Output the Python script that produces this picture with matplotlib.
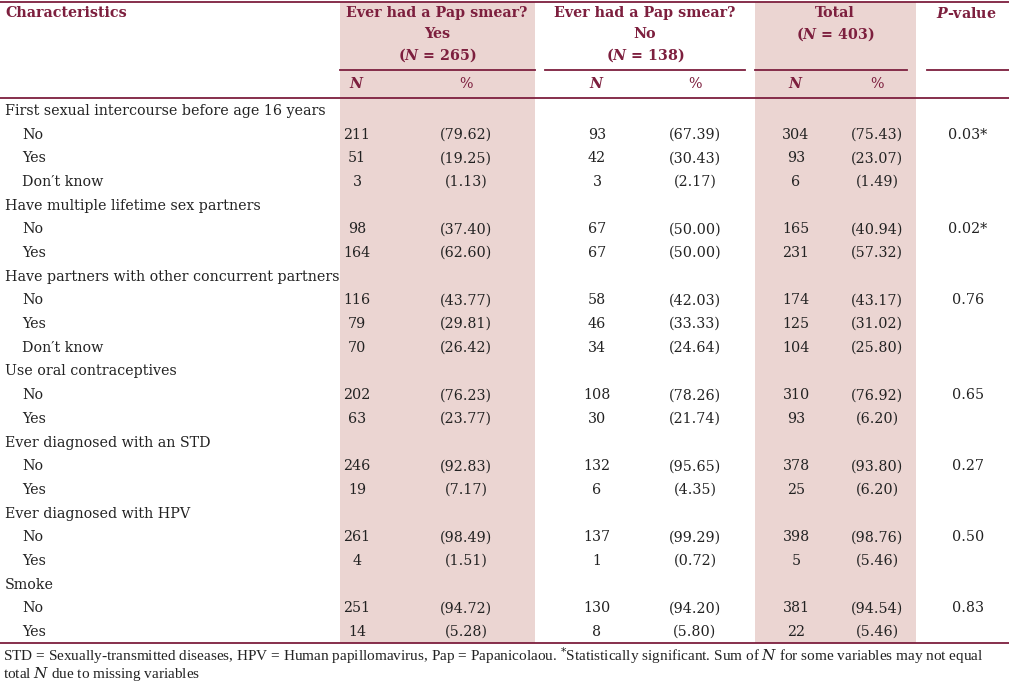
import matplotlib
matplotlib.use("Agg")
import matplotlib.pyplot as plt

# ---- data ----
row_labels = [
    "First sexual intercourse before age 16 years", "No", "Yes", "Don\u2032t know",
    "Have multiple lifetime sex partners", "No", "Yes",
    "Have partners with other concurrent partners", "No", "Yes", "Don\u2032t know",
    "Use oral contraceptives", "No", "Yes",
    "Ever diagnosed with an STD", "No", "Yes",
    "Ever diagnosed with HPV", "No", "Yes",
    "Smoke", "No", "Yes",
]
is_group = [True, False, False, False, True, False, False, True, False, False, False,
            True, False, False, True, False, False, True, False, False, True, False, False]
yes_n = ["", "211", "51", "3", "", "98", "164", "", "116", "79", "70", "", "202", "63",
         "", "246", "19", "", "261", "4", "", "251", "14"]
yes_pct = ["", "(79.62)", "(19.25)", "(1.13)", "", "(37.40)", "(62.60)", "", "(43.77)", "(29.81)",
           "(26.42)", "", "(76.23)", "(23.77)", "", "(92.83)", "(7.17)", "", "(98.49)", "(1.51)",
           "", "(94.72)", "(5.28)"]
no_n = ["", "93", "42", "3", "", "67", "67", "", "58", "46", "34", "", "108", "30",
        "", "132", "6", "", "137", "1", "", "130", "8"]
no_pct = ["", "(67.39)", "(30.43)", "(2.17)", "", "(50.00)", "(50.00)", "", "(42.03)", "(33.33)",
          "(24.64)", "", "(78.26)", "(21.74)", "", "(95.65)", "(4.35)", "", "(99.29)", "(0.72)",
          "", "(94.20)", "(5.80)"]
tot_n = ["", "304", "93", "6", "", "165", "231", "", "174", "125", "104", "", "310", "93",
         "", "378", "25", "", "398", "5", "", "381", "22"]
tot_pct = ["", "(75.43)", "(23.07)", "(1.49)", "", "(40.94)", "(57.32)", "", "(43.17)", "(31.02)",
           "(25.80)", "", "(76.92)", "(6.20)", "", "(93.80)", "(6.20)", "", "(98.76)", "(5.46)",
           "", "(94.54)", "(5.46)"]
pvals = ["", "0.03*", "", "", "", "0.02*", "", "", "0.76", "", "", "", "0.65", "",
         "", "0.27", "", "", "0.50", "", "", "0.83", ""]

footnote1 = ("STD = Sexually-transmitted diseases, HPV = Human papillomavirus, Pap = Papanicolaou. "
             "$^{*}$Statistically significant. Sum of $\\mathit{N}$ for some variables may not equal")
footnote2 = "total $\\mathit{N}$ due to missing variables"

# ---- style ----
plt.rcParams["mathtext.fontset"] = "custom"
plt.rcParams["mathtext.rm"] = "DejaVu Serif"
plt.rcParams["mathtext.it"] = "DejaVu Serif:italic"
plt.rcParams["mathtext.bf"] = "DejaVu Serif:bold"
plt.rcParams["mathtext.bfit"] = "DejaVu Serif:bold:italic"

W, H = 1009, 682
RED = "#7d1f3e"
SHADE = "#ebd5d2"
FONT = "DejaVu Serif"
FS = 10.3

fig = plt.figure(figsize=(W / 100, H / 100), dpi=100)
ax = fig.add_axes([0, 0, 1, 1])
ax.set_xlim(0, W)
ax.set_ylim(H, 0)
ax.axis("off")

# shaded columns
ax.axvspan(340, 535, ymin=1 - 643 / H, ymax=1 - 2 / H, color=SHADE, lw=0, zorder=0)
ax.axvspan(755, 916, ymin=1 - 643 / H, ymax=1 - 2 / H, color=SHADE, lw=0, zorder=0)

# rules
lw = 1.3
ax.plot([0, W], [1.5, 1.5], color=RED, lw=lw)
ax.plot([0, W], [98, 98], color=RED, lw=lw)
ax.plot([0, W], [643, 643], color=RED, lw=lw)
for x0, x1 in [(340, 535), (545, 745), (755, 907), (927, W)]:
    ax.plot([x0, x1], [70, 70], color=RED, lw=lw)

hk = dict(color=RED, fontfamily=FONT, fontsize=FS, fontweight="bold", va="center")
ax.text(5, 13, "Characteristics", ha="left", **hk)
ax.text(437, 13, "Ever had a Pap smear?", ha="center", **hk)
ax.text(437, 34, "Yes", ha="center", **hk)
ax.text(437, 55, "($\\mathbfit{N}$ = 265)", ha="center", **hk)
ax.text(645, 13, "Ever had a Pap smear?", ha="center", **hk)
ax.text(645, 34, "No", ha="center", **hk)
ax.text(645, 55, "($\\mathbfit{N}$ = 138)", ha="center", **hk)
ax.text(835, 13, "Total", ha="center", **hk)
ax.text(835, 34, "($\\mathbfit{N}$ = 403)", ha="center", **hk)
ax.text(966, 13, "$\\mathbfit{P}$-value", ha="center", **hk)

col_n = [357, 597, 796]
col_p = [466, 695, 877]
for xn, xp in zip(col_n, col_p):
    ax.text(xn, 84, "$\\mathbfit{N}$", ha="center", **hk)
    ax.text(xp, 84, "%", ha="center", color=RED, fontfamily=FONT, fontsize=FS, va="center")

bk = dict(color="#222222", fontfamily=FONT, fontsize=FS, va="center")
y0, dy = 111, (632 - 111) / 22
for i, lab in enumerate(row_labels):
    y = y0 + i * dy
    ax.text(5 if is_group[i] else 22, y, lab, ha="left", **bk)
    for xn, xp, ns, ps in zip(col_n, col_p, [yes_n, no_n, tot_n], [yes_pct, no_pct, tot_pct]):
        ax.text(xn, y, ns[i], ha="center", **bk)
        ax.text(xp, y, ps[i], ha="center", **bk)
    ax.text(968, y, pvals[i], ha="center", **bk)

fk = dict(color="#222222", fontfamily="Liberation Serif", fontsize=11.0, va="center", ha="left")
ax.text(3, 656, footnote1, **fk)
ax.text(3, 674, footnote2, **fk)

fig.savefig("out.png", dpi=100)
